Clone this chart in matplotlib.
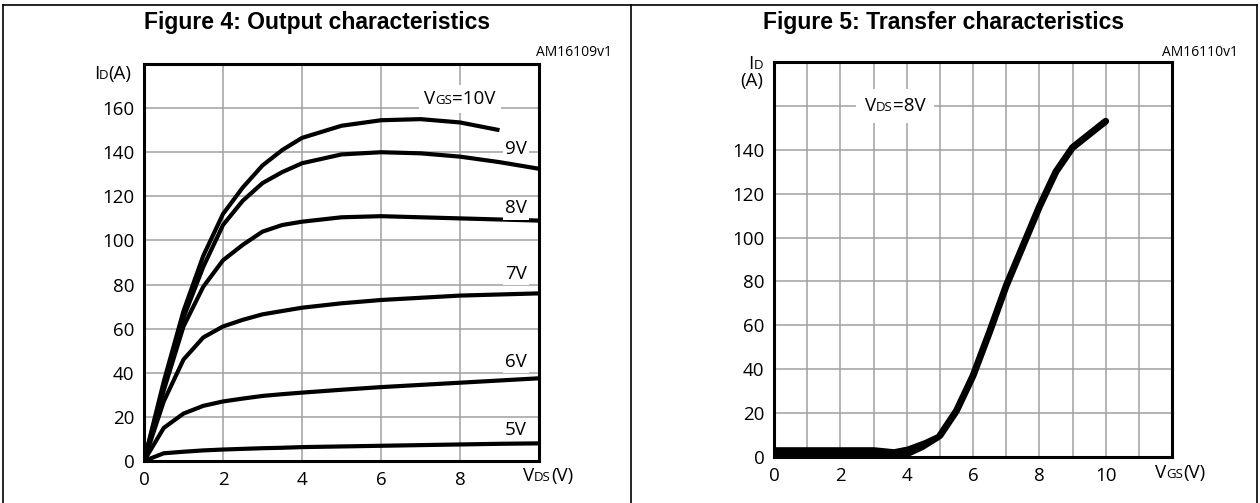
import numpy as np
import matplotlib
matplotlib.use("Agg")
import matplotlib.pyplot as plt
from matplotlib.lines import Line2D
from matplotlib.offsetbox import TextArea, HPacker, AnnotationBbox

# ---- data ----
# Figure 4: output characteristics, ID vs VDS for several VGS
vds = [0, 0.5, 1, 1.5, 2, 2.5, 3, 3.5, 4, 5, 6, 7, 8, 9, 10]
id_10v = [0, 36, 68, 93, 112, 124, 134, 141, 146.5, 152, 154.5, 155, 153.5, 150]
id_9v = [0, 34, 65, 88, 107, 118, 126, 131, 135, 139, 140, 139.5, 138, 135.5, 132.5]
id_8v = [0, 32, 61, 79, 91, 98, 104, 107, 108.5, 110.5, 111, 110.5, 110, 109.5, 109]
id_7v = [0, 27, 46, 56, 61, 64, 66.5, 68, 69.5, 71.5, 73, 74, 75, 75.5, 76]
id_6v = [0, 15, 21.5, 25, 27, 28.3, 29.5, 30.3, 31, 32.3, 33.5, 34.5, 35.5, 36.5, 37.5]
id_5v = [0, 3.5, 4.2, 4.8, 5.2, 5.5, 5.8, 6.0, 6.3, 6.6, 6.9, 7.2, 7.5, 7.8, 8]
curve_labels = ["9V", "8V", "7V", "6V", "5V"]
label_pos_id = [141.5, 114.5, 85, 45, 14]

# Figure 5: transfer characteristics, ID vs VGS at VDS=8V
band_vgs = [0, 3.0, 3.6, 4.0, 4.5, 5.0]
band_hi = [4.7, 4.7, 3.8, 5.0, 7.8, 11.3]
band_lo = [0, 0, 0, 0, 3.5, 8.2]
vgs = [5.0, 5.5, 6.0, 6.5, 7.0, 7.5, 8.0, 8.5, 9.0, 9.5, 10.0]
id_tr = [9.7, 21, 37, 57, 78, 96, 114, 130, 141, 147, 153]

FONT = ["Open Sans", "DejaVu Sans"]
FS = 13.5
SUB = 9.5
GRID = "#a0a0a0"

W, H = 1260, 503
fig = plt.figure(figsize=(W / 100, H / 100), dpi=100)


def px_axes(x0, y0, x1, y1):
    # axes from pixel box (top-left origin)
    return fig.add_axes([x0 / W, 1 - y1 / H, (x1 - x0) / W, (y1 - y0) / H])


def mixed(ax, xy, parts, align=(0.5, 0.5), offset=(0, 0), coords="data", white=False, pad=0.3):
    boxes = [TextArea(s, textprops=dict(fontsize=fs, family=FONT, color="black")) for s, fs in parts]
    pack = HPacker(children=boxes, align="baseline", pad=0, sep=0)
    ab = AnnotationBbox(pack, xy, xycoords=coords, xybox=offset, boxcoords="offset points",
                        box_alignment=align, frameon=white, pad=pad,
                        bboxprops=dict(fc="white", ec="none"), annotation_clip=False)
    ax.add_artist(ab)
    return ab


def style(ax, xmax, xgrid, xlabels, ylabels):
    ax.set_xlim(0, xmax)
    ax.set_ylim(0, 180)
    ax.set_xticks(xgrid)
    ax.set_xticklabels([str(v) if v in xlabels else "" for v in xgrid])
    ax.set_yticks(np.arange(0, 180, 20))
    ax.set_yticklabels([str(v) if v in ylabels else "" for v in np.arange(0, 180, 20)])
    ax.grid(True, color=GRID, lw=1.1)
    ax.set_axisbelow(True)
    ax.tick_params(length=0, labelsize=FS, pad=7)
    for lab in ax.get_xticklabels() + ax.get_yticklabels():
        lab.set_family(FONT)
    for sp in ax.spines.values():
        sp.set_linewidth(2.2)
        sp.set_zorder(5)


# panel frames
for seg in [((3, 1257), (5, 5)), ((3, 3), (5, 503)), ((631, 631), (5, 503)), ((1257, 1257), (5, 503))]:
    fig.add_artist(Line2D([p / W for p in seg[0]], [1 - p / H for p in seg[1]],
                          transform=fig.transFigure, color="black", lw=1.2))

fig.text(317 / W, 1 - 22 / H, "Figure 4: Output characteristics", ha="center", va="center",
         fontsize=16.5, fontweight="bold", family="Liberation Sans")
fig.text(944 / W, 1 - 22 / H, "Figure 5: Transfer characteristics", ha="center", va="center",
         fontsize=16.5, fontweight="bold", family="Liberation Sans")
fig.text(612 / W, 1 - 52 / H, "AM16109v1", ha="right", va="center", fontsize=10, family=FONT)
fig.text(1238 / W, 1 - 52 / H, "AM16110v1", ha="right", va="center", fontsize=10, family=FONT)

# ---- Figure 4 ----
ax1 = px_axes(144, 64, 539, 461)
style(ax1, 10, [0, 2, 4, 6, 8, 10], [0, 2, 4, 6, 8], list(range(0, 180, 20)))
for ids in [id_10v, id_9v, id_8v, id_7v, id_6v, id_5v]:
    ax1.plot(vds[:len(ids)], ids, color="black", lw=3, solid_capstyle="butt", zorder=3)
mixed(ax1, (8.0, 164), [("V", FS), ("GS", SUB), ("=10V", FS)], white=True, pad=0.35)
for lab, y in zip(curve_labels, label_pos_id):
    mixed(ax1, (9.42, y), [(lab, FS)], white=True, pad=0.15)
mixed(ax1, (0, 175.5), [("I", FS), ("D", SUB), ("(A)", FS)], align=(1, 0.5), offset=(-9, 0))
mixed(ax1, (10.23, -7), [("V", FS), ("DS", SUB), ("(V)", FS)])

# ---- Figure 5 ----
ax2 = px_axes(774, 62, 1172, 457)
style(ax2, 12, list(range(0, 13)), [0, 2, 4, 6, 8, 10], list(range(0, 160, 20)))
ax2.fill_between(band_vgs, band_lo, band_hi, color="black", lw=0, zorder=3)
ax2.plot(vgs, id_tr, color="black", lw=5, solid_capstyle="round", zorder=3)
mixed(ax2, (3.65, 160), [("V", FS), ("DS", SUB), ("=8V", FS)], white=True, pad=0.6)
mixed(ax2, (0, 179), [("I", FS), ("D", SUB)], align=(1, 0.5), offset=(-8, 0))
mixed(ax2, (0, 171.5), [("(A)", FS)], align=(1, 0.5), offset=(-8, 0))
mixed(ax2, (12.24, -7.5), [("V", FS), ("GS", SUB), ("(V)", FS)])

fig.savefig("out.png", dpi=100)
